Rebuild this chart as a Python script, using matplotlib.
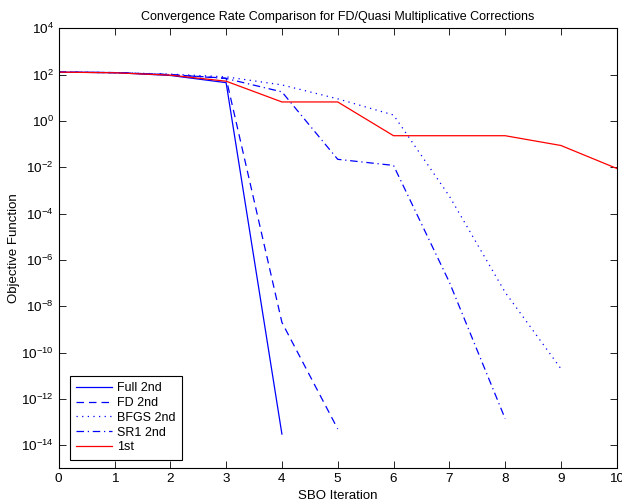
import matplotlib
matplotlib.use("Agg")
import matplotlib.pyplot as plt
from matplotlib.ticker import LogLocator, LogFormatterSciNotation, NullLocator

plt.rcParams['font.family'] = ['Liberation Sans', 'DejaVu Sans']
plt.rcParams['mathtext.fontset'] = 'custom'
plt.rcParams['mathtext.rm'] = 'Liberation Sans'
plt.rcParams['mathtext.it'] = 'Liberation Sans:italic'
plt.rcParams['mathtext.bf'] = 'Liberation Sans:bold'

title = "Convergence Rate Comparison for FD/Quasi Multiplicative Corrections"
xlabel = "SBO Iteration"
ylabel = "Objective Function"

labels = ["Full 2nd", "FD 2nd", "BFGS 2nd", "SR1 2nd", "1st"]

full_x = [0, 1, 2, 3, 4]
full_y = [128, 122, 92, 45, 3e-14]

fd_x = [0, 1, 2, 3, 4, 5]
fd_y = [128, 122, 100, 70, 2e-9, 5e-14]

bfgs_x = [0, 1, 2, 3, 4, 5, 6, 7, 8, 9]
bfgs_y = [128, 122, 105, 80, 36, 9, 1.8, 5.7e-4, 4e-8, 2e-11]

sr1_x = [0, 1, 2, 3, 4, 5, 6, 7, 8]
sr1_y = [128, 122, 100, 68, 18, 0.022, 0.012, 1.1e-7, 1.4e-13]

first_x = [0, 1, 2, 3, 4, 5, 6, 7, 8, 9, 10]
first_y = [128, 120, 95, 52, 6.6, 6.6, 0.23, 0.23, 0.23, 0.087, 0.0089]

fig = plt.figure(figsize=(6.22, 5.0), dpi=100)
ax = fig.add_axes([0.0944, 0.0634, 0.8971, 0.88])

lw = 0.9
ax.plot(full_x, full_y, color=(0, 0, 1), linestyle='-', lw=lw, label=labels[0])
ax.plot(fd_x, fd_y, color=(0, 0, 1), linestyle=(0, (6, 4)), lw=lw, label=labels[1])
ax.plot(bfgs_x, bfgs_y, color=(0, 0, 1), linestyle=(0, (1, 3.5)), lw=lw, label=labels[2])
ax.plot(sr1_x, sr1_y, color=(0, 0, 1), linestyle=(0, (6, 3, 1, 3)), lw=lw, label=labels[3])
ax.plot(first_x, first_y, color=(1, 0, 0), linestyle='-', lw=lw, label=labels[4])

ax.set_yscale('log')
ax.set_xlim(0, 10)
ax.set_ylim(1e-15, 1e4)
ax.set_xticks(range(0, 11))
ax.yaxis.set_major_locator(LogLocator(base=100.0, numticks=20))
ax.yaxis.set_major_formatter(LogFormatterSciNotation(base=10))
ax.yaxis.set_minor_locator(NullLocator())
ax.tick_params(direction='in', top=True, right=True, labelsize=9.7, length=5, width=0.6)
for s in ax.spines.values():
    s.set_linewidth(0.8)

ax.set_title(title, fontsize=9, pad=6)
ax.set_xlabel(xlabel, fontsize=9.5)
ax.set_ylabel(ylabel, fontsize=9.5)
ax.xaxis.set_label_coords(0.5, -0.049)
ax.yaxis.set_label_coords(-0.070, 0.5)

leg = ax.legend(loc='lower left', bbox_to_anchor=(0.02, 0.02), fontsize=9,
                frameon=True, fancybox=False, edgecolor='black', framealpha=1,
                handlelength=2.9, borderpad=0.5, labelspacing=0.22, handletextpad=0.4,
                borderaxespad=0.0)
leg.get_frame().set_linewidth(0.8)

fig.savefig("out.png", dpi=100)
